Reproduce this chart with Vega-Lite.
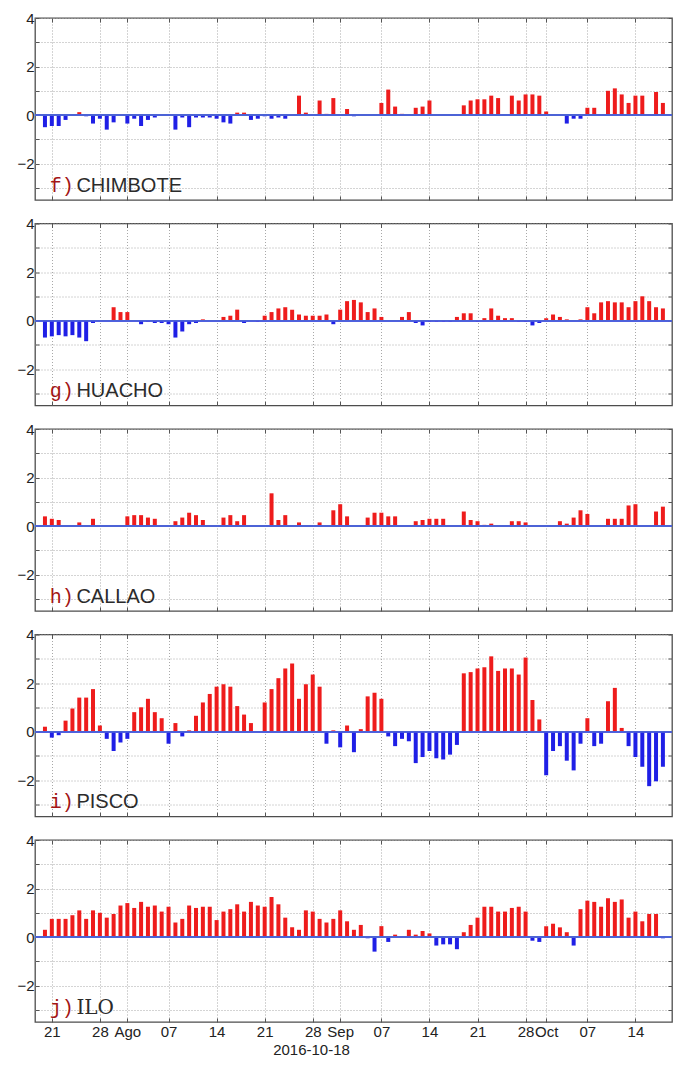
{
"$schema": "https://vega.github.io/schema/vega-lite/v6.json",
"background": "white",
"padding": {"left": 16, "top": 10, "right": 8, "bottom": 6},
"config": {"view": {"stroke": "#4d4d4d", "strokeWidth": 1.3}},
"data": {"values": [
{"date":"2016-07-20","CHIMBOTE":-0.5,"HUACHO":-0.7,"CALLAO":0.4,"PISCO":0.2,"ILO":0.3},
{"date":"2016-07-21","CHIMBOTE":-0.45,"HUACHO":-0.65,"CALLAO":0.3,"PISCO":-0.25,"ILO":0.75},
{"date":"2016-07-22","CHIMBOTE":-0.45,"HUACHO":-0.6,"CALLAO":0.25,"PISCO":-0.15,"ILO":0.75},
{"date":"2016-07-23","CHIMBOTE":-0.2,"HUACHO":-0.65,"CALLAO":0,"PISCO":0.45,"ILO":0.75},
{"date":"2016-07-24","CHIMBOTE":0,"HUACHO":-0.6,"CALLAO":0,"PISCO":0.95,"ILO":0.9},
{"date":"2016-07-25","CHIMBOTE":0.12,"HUACHO":-0.7,"CALLAO":0.15,"PISCO":1.4,"ILO":1.1},
{"date":"2016-07-26","CHIMBOTE":-0.05,"HUACHO":-0.85,"CALLAO":0,"PISCO":1.4,"ILO":0.75},
{"date":"2016-07-27","CHIMBOTE":-0.35,"HUACHO":-0.1,"CALLAO":0.3,"PISCO":1.75,"ILO":1.1},
{"date":"2016-07-28","CHIMBOTE":-0.15,"HUACHO":0,"CALLAO":0,"PISCO":0.25,"ILO":1.0},
{"date":"2016-07-29","CHIMBOTE":-0.6,"HUACHO":0,"CALLAO":0,"PISCO":-0.3,"ILO":0.8},
{"date":"2016-07-30","CHIMBOTE":-0.3,"HUACHO":0.55,"CALLAO":0,"PISCO":-0.8,"ILO":0.95},
{"date":"2016-07-31","CHIMBOTE":0,"HUACHO":0.35,"CALLAO":0,"PISCO":-0.45,"ILO":1.3},
{"date":"2016-08-01","CHIMBOTE":-0.35,"HUACHO":0.35,"CALLAO":0.4,"PISCO":-0.3,"ILO":1.4},
{"date":"2016-08-02","CHIMBOTE":-0.15,"HUACHO":0,"CALLAO":0.45,"PISCO":0.8,"ILO":1.2},
{"date":"2016-08-03","CHIMBOTE":-0.45,"HUACHO":-0.15,"CALLAO":0.45,"PISCO":1.0,"ILO":1.45},
{"date":"2016-08-04","CHIMBOTE":-0.2,"HUACHO":-0.05,"CALLAO":0.35,"PISCO":1.35,"ILO":1.25},
{"date":"2016-08-05","CHIMBOTE":-0.1,"HUACHO":-0.1,"CALLAO":0.3,"PISCO":0.8,"ILO":1.3},
{"date":"2016-08-06","CHIMBOTE":0,"HUACHO":-0.1,"CALLAO":0,"PISCO":0.55,"ILO":1.05},
{"date":"2016-08-07","CHIMBOTE":0,"HUACHO":-0.15,"CALLAO":0,"PISCO":-0.5,"ILO":1.25},
{"date":"2016-08-08","CHIMBOTE":-0.6,"HUACHO":-0.7,"CALLAO":0.2,"PISCO":0.35,"ILO":0.6},
{"date":"2016-08-09","CHIMBOTE":-0.1,"HUACHO":-0.45,"CALLAO":0.35,"PISCO":-0.2,"ILO":0.75},
{"date":"2016-08-10","CHIMBOTE":-0.5,"HUACHO":-0.15,"CALLAO":0.55,"PISCO":0.05,"ILO":1.3},
{"date":"2016-08-11","CHIMBOTE":-0.1,"HUACHO":-0.1,"CALLAO":0.45,"PISCO":0.65,"ILO":1.2},
{"date":"2016-08-12","CHIMBOTE":-0.1,"HUACHO":0.05,"CALLAO":0.25,"PISCO":1.2,"ILO":1.25},
{"date":"2016-08-13","CHIMBOTE":-0.1,"HUACHO":0,"CALLAO":0,"PISCO":1.55,"ILO":1.25},
{"date":"2016-08-14","CHIMBOTE":-0.15,"HUACHO":0,"CALLAO":0,"PISCO":1.85,"ILO":0.7},
{"date":"2016-08-15","CHIMBOTE":-0.3,"HUACHO":0.15,"CALLAO":0.35,"PISCO":1.95,"ILO":1.05},
{"date":"2016-08-16","CHIMBOTE":-0.35,"HUACHO":0.2,"CALLAO":0.45,"PISCO":1.85,"ILO":1.15},
{"date":"2016-08-17","CHIMBOTE":0.1,"HUACHO":0.45,"CALLAO":0.2,"PISCO":1.05,"ILO":1.35},
{"date":"2016-08-18","CHIMBOTE":0.1,"HUACHO":-0.1,"CALLAO":0.45,"PISCO":0.7,"ILO":1.05},
{"date":"2016-08-19","CHIMBOTE":-0.2,"HUACHO":-0.03,"CALLAO":0,"PISCO":0.35,"ILO":1.45},
{"date":"2016-08-20","CHIMBOTE":-0.15,"HUACHO":-0.05,"CALLAO":0,"PISCO":0.02,"ILO":1.3},
{"date":"2016-08-21","CHIMBOTE":-0.05,"HUACHO":0.2,"CALLAO":0,"PISCO":1.2,"ILO":1.25},
{"date":"2016-08-22","CHIMBOTE":-0.15,"HUACHO":0.35,"CALLAO":1.35,"PISCO":1.75,"ILO":1.65},
{"date":"2016-08-23","CHIMBOTE":-0.1,"HUACHO":0.5,"CALLAO":0.25,"PISCO":2.2,"ILO":1.35},
{"date":"2016-08-24","CHIMBOTE":-0.15,"HUACHO":0.55,"CALLAO":0.45,"PISCO":2.6,"ILO":0.8},
{"date":"2016-08-25","CHIMBOTE":0,"HUACHO":0.45,"CALLAO":0,"PISCO":2.8,"ILO":0.4},
{"date":"2016-08-26","CHIMBOTE":0.8,"HUACHO":0.25,"CALLAO":0.15,"PISCO":1.35,"ILO":0.3},
{"date":"2016-08-27","CHIMBOTE":0.1,"HUACHO":0.2,"CALLAO":0,"PISCO":1.95,"ILO":1.1},
{"date":"2016-08-28","CHIMBOTE":0,"HUACHO":0.2,"CALLAO":0,"PISCO":2.35,"ILO":1.05},
{"date":"2016-08-29","CHIMBOTE":0.6,"HUACHO":0.2,"CALLAO":0.15,"PISCO":1.85,"ILO":0.75},
{"date":"2016-08-30","CHIMBOTE":0.05,"HUACHO":0.25,"CALLAO":0,"PISCO":-0.5,"ILO":0.6},
{"date":"2016-08-31","CHIMBOTE":0.7,"HUACHO":-0.15,"CALLAO":0.65,"PISCO":0.05,"ILO":0.75},
{"date":"2016-09-01","CHIMBOTE":0,"HUACHO":0.45,"CALLAO":0.9,"PISCO":-0.65,"ILO":1.1},
{"date":"2016-09-02","CHIMBOTE":0.25,"HUACHO":0.8,"CALLAO":0.4,"PISCO":0.25,"ILO":0.65},
{"date":"2016-09-03","CHIMBOTE":-0.05,"HUACHO":0.85,"CALLAO":0,"PISCO":-0.85,"ILO":0.3},
{"date":"2016-09-04","CHIMBOTE":0,"HUACHO":0.75,"CALLAO":0,"PISCO":0.1,"ILO":0.5},
{"date":"2016-09-05","CHIMBOTE":0,"HUACHO":0.35,"CALLAO":0.35,"PISCO":1.45,"ILO":-0.05},
{"date":"2016-09-06","CHIMBOTE":0,"HUACHO":0.5,"CALLAO":0.55,"PISCO":1.6,"ILO":-0.6},
{"date":"2016-09-07","CHIMBOTE":0.5,"HUACHO":0.15,"CALLAO":0.55,"PISCO":1.35,"ILO":0.45},
{"date":"2016-09-08","CHIMBOTE":1.05,"HUACHO":0,"CALLAO":0.4,"PISCO":-0.2,"ILO":-0.2},
{"date":"2016-09-09","CHIMBOTE":0.35,"HUACHO":0,"CALLAO":0.4,"PISCO":-0.6,"ILO":0.1},
{"date":"2016-09-10","CHIMBOTE":0.05,"HUACHO":0.15,"CALLAO":0,"PISCO":-0.3,"ILO":0},
{"date":"2016-09-11","CHIMBOTE":0,"HUACHO":0.35,"CALLAO":0,"PISCO":-0.4,"ILO":0.3},
{"date":"2016-09-12","CHIMBOTE":0.3,"HUACHO":-0.1,"CALLAO":0.2,"PISCO":-1.3,"ILO":0.1},
{"date":"2016-09-13","CHIMBOTE":0.35,"HUACHO":-0.2,"CALLAO":0.25,"PISCO":-1.05,"ILO":0.25},
{"date":"2016-09-14","CHIMBOTE":0.6,"HUACHO":-0.05,"CALLAO":0.3,"PISCO":-0.8,"ILO":0.15},
{"date":"2016-09-15","CHIMBOTE":0,"HUACHO":-0.05,"CALLAO":0.3,"PISCO":-1.1,"ILO":-0.35},
{"date":"2016-09-16","CHIMBOTE":0,"HUACHO":-0.05,"CALLAO":0.3,"PISCO":-1.15,"ILO":-0.3},
{"date":"2016-09-17","CHIMBOTE":-0.03,"HUACHO":-0.05,"CALLAO":0,"PISCO":-0.95,"ILO":-0.3},
{"date":"2016-09-18","CHIMBOTE":0,"HUACHO":0.15,"CALLAO":0,"PISCO":-0.55,"ILO":-0.5},
{"date":"2016-09-19","CHIMBOTE":0.4,"HUACHO":0.3,"CALLAO":0.6,"PISCO":2.4,"ILO":0.2},
{"date":"2016-09-20","CHIMBOTE":0.6,"HUACHO":0.3,"CALLAO":0.25,"PISCO":2.45,"ILO":0.5},
{"date":"2016-09-21","CHIMBOTE":0.65,"HUACHO":-0.05,"CALLAO":0.2,"PISCO":2.6,"ILO":0.8},
{"date":"2016-09-22","CHIMBOTE":0.65,"HUACHO":0.1,"CALLAO":0.05,"PISCO":2.65,"ILO":1.25},
{"date":"2016-09-23","CHIMBOTE":0.8,"HUACHO":0.5,"CALLAO":0.1,"PISCO":3.1,"ILO":1.25},
{"date":"2016-09-24","CHIMBOTE":0.7,"HUACHO":0.2,"CALLAO":0,"PISCO":2.5,"ILO":1.05},
{"date":"2016-09-25","CHIMBOTE":0,"HUACHO":0.1,"CALLAO":0,"PISCO":2.6,"ILO":1.05},
{"date":"2016-09-26","CHIMBOTE":0.8,"HUACHO":0.1,"CALLAO":0.2,"PISCO":2.6,"ILO":1.2},
{"date":"2016-09-27","CHIMBOTE":0.6,"HUACHO":-0.05,"CALLAO":0.2,"PISCO":2.35,"ILO":1.25},
{"date":"2016-09-28","CHIMBOTE":0.85,"HUACHO":-0.05,"CALLAO":0.15,"PISCO":3.05,"ILO":1.05},
{"date":"2016-09-29","CHIMBOTE":0.85,"HUACHO":-0.2,"CALLAO":0,"PISCO":1.3,"ILO":-0.15},
{"date":"2016-09-30","CHIMBOTE":0.8,"HUACHO":-0.1,"CALLAO":0,"PISCO":0.5,"ILO":-0.2},
{"date":"2016-10-01","CHIMBOTE":0.15,"HUACHO":0.1,"CALLAO":0,"PISCO":-1.8,"ILO":0.45},
{"date":"2016-10-02","CHIMBOTE":0,"HUACHO":0.25,"CALLAO":0,"PISCO":-0.8,"ILO":0.55},
{"date":"2016-10-03","CHIMBOTE":0,"HUACHO":0.15,"CALLAO":0.2,"PISCO":-0.6,"ILO":0.4},
{"date":"2016-10-04","CHIMBOTE":-0.35,"HUACHO":0.05,"CALLAO":0.1,"PISCO":-1.2,"ILO":0.2},
{"date":"2016-10-05","CHIMBOTE":-0.15,"HUACHO":0,"CALLAO":0.35,"PISCO":-1.6,"ILO":-0.35},
{"date":"2016-10-06","CHIMBOTE":-0.15,"HUACHO":0.05,"CALLAO":0.65,"PISCO":-0.5,"ILO":1.15},
{"date":"2016-10-07","CHIMBOTE":0.3,"HUACHO":0.55,"CALLAO":0.5,"PISCO":0.55,"ILO":1.5},
{"date":"2016-10-08","CHIMBOTE":0.3,"HUACHO":0.3,"CALLAO":0,"PISCO":-0.6,"ILO":1.45},
{"date":"2016-10-09","CHIMBOTE":0,"HUACHO":0.75,"CALLAO":0,"PISCO":-0.5,"ILO":1.25},
{"date":"2016-10-10","CHIMBOTE":1.0,"HUACHO":0.8,"CALLAO":0.3,"PISCO":1.25,"ILO":1.6},
{"date":"2016-10-11","CHIMBOTE":1.1,"HUACHO":0.75,"CALLAO":0.3,"PISCO":1.8,"ILO":1.45},
{"date":"2016-10-12","CHIMBOTE":0.85,"HUACHO":0.75,"CALLAO":0.3,"PISCO":0.15,"ILO":1.55},
{"date":"2016-10-13","CHIMBOTE":0.5,"HUACHO":0.55,"CALLAO":0.85,"PISCO":-0.6,"ILO":0.8},
{"date":"2016-10-14","CHIMBOTE":0.8,"HUACHO":0.8,"CALLAO":0.9,"PISCO":-1.05,"ILO":1.05},
{"date":"2016-10-15","CHIMBOTE":0.8,"HUACHO":1.0,"CALLAO":0,"PISCO":-1.45,"ILO":0.65},
{"date":"2016-10-16","CHIMBOTE":0,"HUACHO":0.8,"CALLAO":0,"PISCO":-2.25,"ILO":0.95},
{"date":"2016-10-17","CHIMBOTE":0.95,"HUACHO":0.55,"CALLAO":0.6,"PISCO":-2.05,"ILO":0.95},
{"date":"2016-10-18","CHIMBOTE":0.5,"HUACHO":0.5,"CALLAO":0.8,"PISCO":-1.45,"ILO":-0.05}
]},
"spacing": 23.5,
"bounds": "flush",
"vconcat": [
{"width": 637, "height": 182,
 "layer": [
  {"mark": {"type": "bar", "size": 4},
   "encoding": {
    "x": {"field": "date", "type": "temporal", "scale": {"type": "utc", "domain": [{"year":2016,"month":7,"date":19,"hours":6,"minutes":40,"utc":true},{"year":2016,"month":10,"date":18,"hours":14,"minutes":20,"utc":true}]},
          "axis": {"values": [{"year":2016,"month":7,"date":21,"utc":true},{"year":2016,"month":7,"date":28,"utc":true},{"year":2016,"month":8,"date":1,"utc":true},{"year":2016,"month":8,"date":7,"utc":true},{"year":2016,"month":8,"date":14,"utc":true},{"year":2016,"month":8,"date":21,"utc":true},{"year":2016,"month":8,"date":28,"utc":true},{"year":2016,"month":9,"date":1,"utc":true},{"year":2016,"month":9,"date":7,"utc":true},{"year":2016,"month":9,"date":14,"utc":true},{"year":2016,"month":9,"date":21,"utc":true},{"year":2016,"month":9,"date":28,"utc":true},{"year":2016,"month":10,"date":1,"utc":true},{"year":2016,"month":10,"date":7,"utc":true},{"year":2016,"month":10,"date":14,"utc":true}],
                   "labels": false, "title": null, "grid": true, "gridDash": [1, 2], "gridColor": "#a8a8a8", "domain": false, "tickSize": -4, "tickColor": "#555"}},
    "y": {"field": "CHIMBOTE", "type": "quantitative", "scale": {"domain": [-3.5, 4], "nice": false, "zero": false},
          "axis": {"values": [-3,-2,-1,0,1,2,3,4], "labelExpr": "datum.value % 2 == 0 ? datum.label : ''", "labelOverlap": false, "title": null, "grid": true, "gridDash": [1, 2], "gridColor": "#a8a8a8", "domain": false, "tickSize": -4, "tickColor": "#555", "labelPadding": 5, "labelFont": "Liberation Sans", "labelFontSize": 15, "labelColor": "#222"}},
    "color": {"condition": {"test": "datum.CHIMBOTE > 0", "value": "#ee1c1c"}, "value": "#1f1fe6"}
   }},
  {"mark": {"type": "bar", "size": 4, "opacity": 0},
   "encoding": {
    "x": {"field": "date", "type": "temporal", "scale": {"type": "utc"}, "axis": {"orient": "top", "values": [{"year":2016,"month":7,"date":21,"utc":true},{"year":2016,"month":7,"date":28,"utc":true},{"year":2016,"month":8,"date":1,"utc":true},{"year":2016,"month":8,"date":7,"utc":true},{"year":2016,"month":8,"date":14,"utc":true},{"year":2016,"month":8,"date":21,"utc":true},{"year":2016,"month":8,"date":28,"utc":true},{"year":2016,"month":9,"date":1,"utc":true},{"year":2016,"month":9,"date":7,"utc":true},{"year":2016,"month":9,"date":14,"utc":true},{"year":2016,"month":9,"date":21,"utc":true},{"year":2016,"month":9,"date":28,"utc":true},{"year":2016,"month":10,"date":1,"utc":true},{"year":2016,"month":10,"date":7,"utc":true},{"year":2016,"month":10,"date":14,"utc":true}], "labels": false, "title": null, "grid": false, "domain": false, "tickSize": -4, "tickColor": "#555"}},
    "y": {"field": "CHIMBOTE", "type": "quantitative", "axis": {"orient": "right", "values": [-3,-2,-1,0,1,2,3,4], "labels": false, "title": null, "grid": false, "domain": false, "tickSize": -4, "tickColor": "#555"}}
   }},
  {"mark": {"type": "rule", "color": "#4c63d6", "strokeWidth": 1},
   "encoding": {"y": {"datum": 0, "type": "quantitative", "axis": null}}},
  {"data": {"values": [{"letter": "f)", "name": "CHIMBOTE"}]},
   "mark": {"type": "text", "font": "Liberation Mono", "fontSize": 20, "color": "#a31515", "align": "left", "baseline": "alphabetic"},
   "encoding": {"x": {"datum": {"year":2016,"month":7,"date":20,"hours":17,"utc":true}, "type": "temporal", "axis": null}, "y": {"datum": -3.15, "type": "quantitative", "axis": null}, "text": {"field": "letter"}}},
  {"data": {"values": [{"letter": "f)", "name": "CHIMBOTE"}]},
   "mark": {"type": "text", "font": "Liberation Sans", "fontSize": 20, "color": "#2b2b2b", "align": "left", "baseline": "alphabetic"},
   "encoding": {"x": {"datum": {"year":2016,"month":7,"date":24,"hours":14,"utc":true}, "type": "temporal", "axis": null}, "y": {"datum": -3.15, "type": "quantitative", "axis": null}, "text": {"field": "name"}}}
 ],
 "resolve": {"axis": {"x": "independent", "y": "independent"}}
},
{"width": 637, "height": 182,
 "layer": [
  {"mark": {"type": "bar", "size": 4},
   "encoding": {
    "x": {"field": "date", "type": "temporal", "scale": {"type": "utc", "domain": [{"year":2016,"month":7,"date":19,"hours":6,"minutes":40,"utc":true},{"year":2016,"month":10,"date":18,"hours":14,"minutes":20,"utc":true}]},
          "axis": {"values": [{"year":2016,"month":7,"date":21,"utc":true},{"year":2016,"month":7,"date":28,"utc":true},{"year":2016,"month":8,"date":1,"utc":true},{"year":2016,"month":8,"date":7,"utc":true},{"year":2016,"month":8,"date":14,"utc":true},{"year":2016,"month":8,"date":21,"utc":true},{"year":2016,"month":8,"date":28,"utc":true},{"year":2016,"month":9,"date":1,"utc":true},{"year":2016,"month":9,"date":7,"utc":true},{"year":2016,"month":9,"date":14,"utc":true},{"year":2016,"month":9,"date":21,"utc":true},{"year":2016,"month":9,"date":28,"utc":true},{"year":2016,"month":10,"date":1,"utc":true},{"year":2016,"month":10,"date":7,"utc":true},{"year":2016,"month":10,"date":14,"utc":true}],
                   "labels": false, "title": null, "grid": true, "gridDash": [1, 2], "gridColor": "#a8a8a8", "domain": false, "tickSize": -4, "tickColor": "#555"}},
    "y": {"field": "HUACHO", "type": "quantitative", "scale": {"domain": [-3.5, 4], "nice": false, "zero": false},
          "axis": {"values": [-3,-2,-1,0,1,2,3,4], "labelExpr": "datum.value % 2 == 0 ? datum.label : ''", "labelOverlap": false, "title": null, "grid": true, "gridDash": [1, 2], "gridColor": "#a8a8a8", "domain": false, "tickSize": -4, "tickColor": "#555", "labelPadding": 5, "labelFont": "Liberation Sans", "labelFontSize": 15, "labelColor": "#222"}},
    "color": {"condition": {"test": "datum.HUACHO > 0", "value": "#ee1c1c"}, "value": "#1f1fe6"}
   }},
  {"mark": {"type": "bar", "size": 4, "opacity": 0},
   "encoding": {
    "x": {"field": "date", "type": "temporal", "scale": {"type": "utc"}, "axis": {"orient": "top", "values": [{"year":2016,"month":7,"date":21,"utc":true},{"year":2016,"month":7,"date":28,"utc":true},{"year":2016,"month":8,"date":1,"utc":true},{"year":2016,"month":8,"date":7,"utc":true},{"year":2016,"month":8,"date":14,"utc":true},{"year":2016,"month":8,"date":21,"utc":true},{"year":2016,"month":8,"date":28,"utc":true},{"year":2016,"month":9,"date":1,"utc":true},{"year":2016,"month":9,"date":7,"utc":true},{"year":2016,"month":9,"date":14,"utc":true},{"year":2016,"month":9,"date":21,"utc":true},{"year":2016,"month":9,"date":28,"utc":true},{"year":2016,"month":10,"date":1,"utc":true},{"year":2016,"month":10,"date":7,"utc":true},{"year":2016,"month":10,"date":14,"utc":true}], "labels": false, "title": null, "grid": false, "domain": false, "tickSize": -4, "tickColor": "#555"}},
    "y": {"field": "HUACHO", "type": "quantitative", "axis": {"orient": "right", "values": [-3,-2,-1,0,1,2,3,4], "labels": false, "title": null, "grid": false, "domain": false, "tickSize": -4, "tickColor": "#555"}}
   }},
  {"mark": {"type": "rule", "color": "#4c63d6", "strokeWidth": 1},
   "encoding": {"y": {"datum": 0, "type": "quantitative", "axis": null}}},
  {"data": {"values": [{"letter": "g)", "name": "HUACHO"}]},
   "mark": {"type": "text", "font": "Liberation Mono", "fontSize": 20, "color": "#a31515", "align": "left", "baseline": "alphabetic"},
   "encoding": {"x": {"datum": {"year":2016,"month":7,"date":20,"hours":17,"utc":true}, "type": "temporal", "axis": null}, "y": {"datum": -3.15, "type": "quantitative", "axis": null}, "text": {"field": "letter"}}},
  {"data": {"values": [{"letter": "g)", "name": "HUACHO"}]},
   "mark": {"type": "text", "font": "Liberation Sans", "fontSize": 20, "color": "#2b2b2b", "align": "left", "baseline": "alphabetic"},
   "encoding": {"x": {"datum": {"year":2016,"month":7,"date":24,"hours":14,"utc":true}, "type": "temporal", "axis": null}, "y": {"datum": -3.15, "type": "quantitative", "axis": null}, "text": {"field": "name"}}}
 ],
 "resolve": {"axis": {"x": "independent", "y": "independent"}}
},
{"width": 637, "height": 182,
 "layer": [
  {"mark": {"type": "bar", "size": 4},
   "encoding": {
    "x": {"field": "date", "type": "temporal", "scale": {"type": "utc", "domain": [{"year":2016,"month":7,"date":19,"hours":6,"minutes":40,"utc":true},{"year":2016,"month":10,"date":18,"hours":14,"minutes":20,"utc":true}]},
          "axis": {"values": [{"year":2016,"month":7,"date":21,"utc":true},{"year":2016,"month":7,"date":28,"utc":true},{"year":2016,"month":8,"date":1,"utc":true},{"year":2016,"month":8,"date":7,"utc":true},{"year":2016,"month":8,"date":14,"utc":true},{"year":2016,"month":8,"date":21,"utc":true},{"year":2016,"month":8,"date":28,"utc":true},{"year":2016,"month":9,"date":1,"utc":true},{"year":2016,"month":9,"date":7,"utc":true},{"year":2016,"month":9,"date":14,"utc":true},{"year":2016,"month":9,"date":21,"utc":true},{"year":2016,"month":9,"date":28,"utc":true},{"year":2016,"month":10,"date":1,"utc":true},{"year":2016,"month":10,"date":7,"utc":true},{"year":2016,"month":10,"date":14,"utc":true}],
                   "labels": false, "title": null, "grid": true, "gridDash": [1, 2], "gridColor": "#a8a8a8", "domain": false, "tickSize": -4, "tickColor": "#555"}},
    "y": {"field": "CALLAO", "type": "quantitative", "scale": {"domain": [-3.5, 4], "nice": false, "zero": false},
          "axis": {"values": [-3,-2,-1,0,1,2,3,4], "labelExpr": "datum.value % 2 == 0 ? datum.label : ''", "labelOverlap": false, "title": null, "grid": true, "gridDash": [1, 2], "gridColor": "#a8a8a8", "domain": false, "tickSize": -4, "tickColor": "#555", "labelPadding": 5, "labelFont": "Liberation Sans", "labelFontSize": 15, "labelColor": "#222"}},
    "color": {"condition": {"test": "datum.CALLAO > 0", "value": "#ee1c1c"}, "value": "#1f1fe6"}
   }},
  {"mark": {"type": "bar", "size": 4, "opacity": 0},
   "encoding": {
    "x": {"field": "date", "type": "temporal", "scale": {"type": "utc"}, "axis": {"orient": "top", "values": [{"year":2016,"month":7,"date":21,"utc":true},{"year":2016,"month":7,"date":28,"utc":true},{"year":2016,"month":8,"date":1,"utc":true},{"year":2016,"month":8,"date":7,"utc":true},{"year":2016,"month":8,"date":14,"utc":true},{"year":2016,"month":8,"date":21,"utc":true},{"year":2016,"month":8,"date":28,"utc":true},{"year":2016,"month":9,"date":1,"utc":true},{"year":2016,"month":9,"date":7,"utc":true},{"year":2016,"month":9,"date":14,"utc":true},{"year":2016,"month":9,"date":21,"utc":true},{"year":2016,"month":9,"date":28,"utc":true},{"year":2016,"month":10,"date":1,"utc":true},{"year":2016,"month":10,"date":7,"utc":true},{"year":2016,"month":10,"date":14,"utc":true}], "labels": false, "title": null, "grid": false, "domain": false, "tickSize": -4, "tickColor": "#555"}},
    "y": {"field": "CALLAO", "type": "quantitative", "axis": {"orient": "right", "values": [-3,-2,-1,0,1,2,3,4], "labels": false, "title": null, "grid": false, "domain": false, "tickSize": -4, "tickColor": "#555"}}
   }},
  {"mark": {"type": "rule", "color": "#4c63d6", "strokeWidth": 1},
   "encoding": {"y": {"datum": 0, "type": "quantitative", "axis": null}}},
  {"data": {"values": [{"letter": "h)", "name": "CALLAO"}]},
   "mark": {"type": "text", "font": "Liberation Mono", "fontSize": 20, "color": "#a31515", "align": "left", "baseline": "alphabetic"},
   "encoding": {"x": {"datum": {"year":2016,"month":7,"date":20,"hours":17,"utc":true}, "type": "temporal", "axis": null}, "y": {"datum": -3.15, "type": "quantitative", "axis": null}, "text": {"field": "letter"}}},
  {"data": {"values": [{"letter": "h)", "name": "CALLAO"}]},
   "mark": {"type": "text", "font": "Liberation Sans", "fontSize": 20, "color": "#2b2b2b", "align": "left", "baseline": "alphabetic"},
   "encoding": {"x": {"datum": {"year":2016,"month":7,"date":24,"hours":14,"utc":true}, "type": "temporal", "axis": null}, "y": {"datum": -3.15, "type": "quantitative", "axis": null}, "text": {"field": "name"}}}
 ],
 "resolve": {"axis": {"x": "independent", "y": "independent"}}
},
{"width": 637, "height": 182,
 "layer": [
  {"mark": {"type": "bar", "size": 4},
   "encoding": {
    "x": {"field": "date", "type": "temporal", "scale": {"type": "utc", "domain": [{"year":2016,"month":7,"date":19,"hours":6,"minutes":40,"utc":true},{"year":2016,"month":10,"date":18,"hours":14,"minutes":20,"utc":true}]},
          "axis": {"values": [{"year":2016,"month":7,"date":21,"utc":true},{"year":2016,"month":7,"date":28,"utc":true},{"year":2016,"month":8,"date":1,"utc":true},{"year":2016,"month":8,"date":7,"utc":true},{"year":2016,"month":8,"date":14,"utc":true},{"year":2016,"month":8,"date":21,"utc":true},{"year":2016,"month":8,"date":28,"utc":true},{"year":2016,"month":9,"date":1,"utc":true},{"year":2016,"month":9,"date":7,"utc":true},{"year":2016,"month":9,"date":14,"utc":true},{"year":2016,"month":9,"date":21,"utc":true},{"year":2016,"month":9,"date":28,"utc":true},{"year":2016,"month":10,"date":1,"utc":true},{"year":2016,"month":10,"date":7,"utc":true},{"year":2016,"month":10,"date":14,"utc":true}],
                   "labels": false, "title": null, "grid": true, "gridDash": [1, 2], "gridColor": "#a8a8a8", "domain": false, "tickSize": -4, "tickColor": "#555"}},
    "y": {"field": "PISCO", "type": "quantitative", "scale": {"domain": [-3.5, 4], "nice": false, "zero": false},
          "axis": {"values": [-3,-2,-1,0,1,2,3,4], "labelExpr": "datum.value % 2 == 0 ? datum.label : ''", "labelOverlap": false, "title": null, "grid": true, "gridDash": [1, 2], "gridColor": "#a8a8a8", "domain": false, "tickSize": -4, "tickColor": "#555", "labelPadding": 5, "labelFont": "Liberation Sans", "labelFontSize": 15, "labelColor": "#222"}},
    "color": {"condition": {"test": "datum.PISCO > 0", "value": "#ee1c1c"}, "value": "#1f1fe6"}
   }},
  {"mark": {"type": "bar", "size": 4, "opacity": 0},
   "encoding": {
    "x": {"field": "date", "type": "temporal", "scale": {"type": "utc"}, "axis": {"orient": "top", "values": [{"year":2016,"month":7,"date":21,"utc":true},{"year":2016,"month":7,"date":28,"utc":true},{"year":2016,"month":8,"date":1,"utc":true},{"year":2016,"month":8,"date":7,"utc":true},{"year":2016,"month":8,"date":14,"utc":true},{"year":2016,"month":8,"date":21,"utc":true},{"year":2016,"month":8,"date":28,"utc":true},{"year":2016,"month":9,"date":1,"utc":true},{"year":2016,"month":9,"date":7,"utc":true},{"year":2016,"month":9,"date":14,"utc":true},{"year":2016,"month":9,"date":21,"utc":true},{"year":2016,"month":9,"date":28,"utc":true},{"year":2016,"month":10,"date":1,"utc":true},{"year":2016,"month":10,"date":7,"utc":true},{"year":2016,"month":10,"date":14,"utc":true}], "labels": false, "title": null, "grid": false, "domain": false, "tickSize": -4, "tickColor": "#555"}},
    "y": {"field": "PISCO", "type": "quantitative", "axis": {"orient": "right", "values": [-3,-2,-1,0,1,2,3,4], "labels": false, "title": null, "grid": false, "domain": false, "tickSize": -4, "tickColor": "#555"}}
   }},
  {"mark": {"type": "rule", "color": "#4c63d6", "strokeWidth": 1},
   "encoding": {"y": {"datum": 0, "type": "quantitative", "axis": null}}},
  {"data": {"values": [{"letter": "i)", "name": "PISCO"}]},
   "mark": {"type": "text", "font": "Liberation Mono", "fontSize": 20, "color": "#a31515", "align": "left", "baseline": "alphabetic"},
   "encoding": {"x": {"datum": {"year":2016,"month":7,"date":20,"hours":17,"utc":true}, "type": "temporal", "axis": null}, "y": {"datum": -3.15, "type": "quantitative", "axis": null}, "text": {"field": "letter"}}},
  {"data": {"values": [{"letter": "i)", "name": "PISCO"}]},
   "mark": {"type": "text", "font": "Liberation Sans", "fontSize": 20, "color": "#2b2b2b", "align": "left", "baseline": "alphabetic"},
   "encoding": {"x": {"datum": {"year":2016,"month":7,"date":24,"hours":14,"utc":true}, "type": "temporal", "axis": null}, "y": {"datum": -3.15, "type": "quantitative", "axis": null}, "text": {"field": "name"}}}
 ],
 "resolve": {"axis": {"x": "independent", "y": "independent"}}
},
{"width": 637, "height": 182,
 "layer": [
  {"mark": {"type": "bar", "size": 4},
   "encoding": {
    "x": {"field": "date", "type": "temporal", "scale": {"type": "utc", "domain": [{"year":2016,"month":7,"date":19,"hours":6,"minutes":40,"utc":true},{"year":2016,"month":10,"date":18,"hours":14,"minutes":20,"utc":true}]},
          "axis": {"values": [{"year":2016,"month":7,"date":21,"utc":true},{"year":2016,"month":7,"date":28,"utc":true},{"year":2016,"month":8,"date":1,"utc":true},{"year":2016,"month":8,"date":7,"utc":true},{"year":2016,"month":8,"date":14,"utc":true},{"year":2016,"month":8,"date":21,"utc":true},{"year":2016,"month":8,"date":28,"utc":true},{"year":2016,"month":9,"date":1,"utc":true},{"year":2016,"month":9,"date":7,"utc":true},{"year":2016,"month":9,"date":14,"utc":true},{"year":2016,"month":9,"date":21,"utc":true},{"year":2016,"month":9,"date":28,"utc":true},{"year":2016,"month":10,"date":1,"utc":true},{"year":2016,"month":10,"date":7,"utc":true},{"year":2016,"month":10,"date":14,"utc":true}],
                   "labelExpr": "utcdate(datum.value) == 1 ? ['Ene','Feb','Mar','Abr','May','Jun','Jul','Ago','Sep','Oct','Nov','Dic'][utcmonth(datum.value)] : utcFormat(datum.value, '%d')",
                   "labelOverlap": false, "labelFont": "Liberation Sans", "labelFontSize": 15, "labelColor": "#222", "labelPadding": 6,
                   "title": "2016-10-18", "titleFont": "Liberation Sans", "titleFontSize": 15, "titleFontWeight": "normal", "titleColor": "#222", "titlePadding": 3, "titleX": 276,
                   "grid": true, "gridDash": [1, 2], "gridColor": "#a8a8a8", "domain": false, "tickSize": -4, "tickColor": "#555"}},
    "y": {"field": "ILO", "type": "quantitative", "scale": {"domain": [-3.5, 4], "nice": false, "zero": false},
          "axis": {"values": [-3,-2,-1,0,1,2,3,4], "labelExpr": "datum.value % 2 == 0 ? datum.label : ''", "labelOverlap": false, "title": null, "grid": true, "gridDash": [1, 2], "gridColor": "#a8a8a8", "domain": false, "tickSize": -4, "tickColor": "#555", "labelPadding": 5, "labelFont": "Liberation Sans", "labelFontSize": 15, "labelColor": "#222"}},
    "color": {"condition": {"test": "datum.ILO > 0", "value": "#ee1c1c"}, "value": "#1f1fe6"}
   }},
  {"mark": {"type": "bar", "size": 4, "opacity": 0},
   "encoding": {
    "x": {"field": "date", "type": "temporal", "scale": {"type": "utc"}, "axis": {"orient": "top", "values": [{"year":2016,"month":7,"date":21,"utc":true},{"year":2016,"month":7,"date":28,"utc":true},{"year":2016,"month":8,"date":1,"utc":true},{"year":2016,"month":8,"date":7,"utc":true},{"year":2016,"month":8,"date":14,"utc":true},{"year":2016,"month":8,"date":21,"utc":true},{"year":2016,"month":8,"date":28,"utc":true},{"year":2016,"month":9,"date":1,"utc":true},{"year":2016,"month":9,"date":7,"utc":true},{"year":2016,"month":9,"date":14,"utc":true},{"year":2016,"month":9,"date":21,"utc":true},{"year":2016,"month":9,"date":28,"utc":true},{"year":2016,"month":10,"date":1,"utc":true},{"year":2016,"month":10,"date":7,"utc":true},{"year":2016,"month":10,"date":14,"utc":true}], "labels": false, "title": null, "grid": false, "domain": false, "tickSize": -4, "tickColor": "#555"}},
    "y": {"field": "ILO", "type": "quantitative", "axis": {"orient": "right", "values": [-3,-2,-1,0,1,2,3,4], "labels": false, "title": null, "grid": false, "domain": false, "tickSize": -4, "tickColor": "#555"}}
   }},
  {"mark": {"type": "rule", "color": "#4c63d6", "strokeWidth": 1},
   "encoding": {"y": {"datum": 0, "type": "quantitative", "axis": null}}},
  {"data": {"values": [{"letter": "j)", "name": "ILO"}]},
   "mark": {"type": "text", "font": "Liberation Mono", "fontSize": 20, "color": "#a31515", "align": "left", "baseline": "alphabetic"},
   "encoding": {"x": {"datum": {"year":2016,"month":7,"date":20,"hours":17,"utc":true}, "type": "temporal", "axis": null}, "y": {"datum": -3.15, "type": "quantitative", "axis": null}, "text": {"field": "letter"}}},
  {"data": {"values": [{"letter": "j)", "name": "ILO"}]},
   "mark": {"type": "text", "font": "DejaVu Serif", "fontSize": 20, "color": "#2b2b2b", "align": "left", "baseline": "alphabetic"},
   "encoding": {"x": {"datum": {"year":2016,"month":7,"date":24,"hours":14,"utc":true}, "type": "temporal", "axis": null}, "y": {"datum": -3.15, "type": "quantitative", "axis": null}, "text": {"field": "name"}}}
 ],
 "resolve": {"axis": {"x": "independent", "y": "independent"}}
}
]
}
